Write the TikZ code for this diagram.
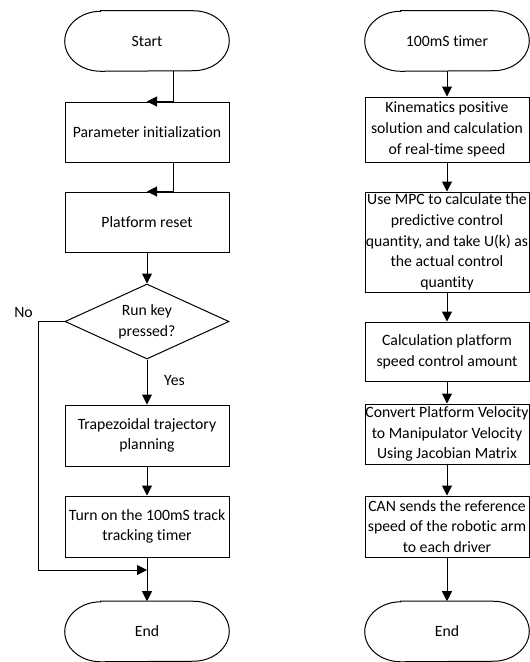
\documentclass[tikz,border=0pt]{standalone}
\usepackage{fontspec}
\setmainfont[Ligatures=NoCommon]{Carlito}
\usetikzlibrary{arrows.meta,shapes.geometric,calc}
\newcommand\termdraw[1]{%
  \draw[shp] ([xshift=27pt]#1.north west) -- ([xshift=-27pt]#1.north east)
    arc[start angle=90,end angle=-90,x radius=27pt,y radius=0.5*\termh]
    -- ([xshift=27pt]#1.south west)
    arc[start angle=270,end angle=90,x radius=27pt,y radius=0.5*\termh] -- cycle;}
\newlength\termh
\begin{document}
\begin{tikzpicture}[x=0.75pt,y=-0.75pt,
  font=\fontsize{11.8pt}{15.5pt}\selectfont,
  shp/.style={draw=black, line width=0.75pt},
  box/.style={shp, minimum width=123pt, inner sep=0pt, align=center},
  term/.style={draw=none, minimum width=123pt, minimum height=\termh, inner sep=0pt, align=center},
  dia/.style={shp, diamond, minimum width=123pt, minimum height=56.25pt, shape aspect=2.19, inner sep=0pt, align=center},
  arr/.style={draw=black, line width=0.75pt, -{Triangle[length=7.5pt,width=7.5pt]}},
  lbl/.style={inner sep=0pt}]
\useasboundingbox (0,0) rectangle (530,662);
\setlength\termh{45pt}
% ---------- left column ----------
\node[term] (start) at (147,41) {Start};
\termdraw{start}
\node[box, minimum height=45pt] (param) at (147,132) {Parameter initialization};
\node[box, minimum height=45pt] (reset) at (147,222) {Platform reset};
\node[dia] (dec) at (147,321.5) {Run key\\pressed?};
\node[box, minimum height=45.75pt] (trap) at (147,435.5) {Trapezoidal trajectory\\planning};
\node[box, minimum height=45.75pt] (tmr) at (147,526.5) {Turn on the 100mS track\\tracking timer};
\node[term] (end1) at (147,631.5) {End};
\termdraw{end1}
\node[lbl] (no) at (23.5,312) {No};
\node[lbl] (yes) at (174.5,381) {Yes};
\coordinate (nl) at (38,321.5);
\coordinate (join) at (147,570);
\draw[arr] ([xshift=19.5pt]start.south) |- (param.north);
\draw[arr] ([xshift=19.5pt]param.south) |- (reset.north);
\draw[arr] (reset.south) -- (dec.north);
\draw[arr] (dec.south) -- (trap.north);
\draw[arr] (trap.south) -- (tmr.north);
\draw[arr] (tmr.south) -- (end1.north);
\draw[arr] (dec.west) -- (nl) |- (join);
% ---------- right column ----------
\node[term] (timer) at (447,41) {100mS timer};
\termdraw{timer}
\node[box, minimum height=48.75pt] (kin) at (447,129.5) {Kinematics positive\\solution and calculation\\of real-time speed};
\node[box, minimum height=75pt] (mpc) at (447,242) {Use MPC to calculate the\\predictive control\\quantity, and take U(k) as\\the actual control\\quantity};
\node[box, minimum height=44.25pt] (calc) at (447,351.5) {Calculation platform\\speed control amount};
\node[box, minimum height=45pt] (conv) at (447,434) {Convert Platform Velocity\\to Manipulator Velocity\\Using Jacobian Matrix};
\node[box, minimum height=45.75pt] (can) at (447,526.5) {CAN sends the reference\\speed of the robotic arm\\to each driver};
\node[term] (end2) at (447,631.5) {End};
\termdraw{end2}
\draw[arr] (timer.south) -- (kin.north);
\draw[arr] (kin.south) -- (mpc.north);
\draw[arr] (mpc.south) -- (calc.north);
\draw[arr] (calc.south) -- (conv.north);
\draw[arr] (conv.south) -- (can.north);
\draw[arr] (can.south) -- (end2.north);
\end{tikzpicture}
\end{document}
